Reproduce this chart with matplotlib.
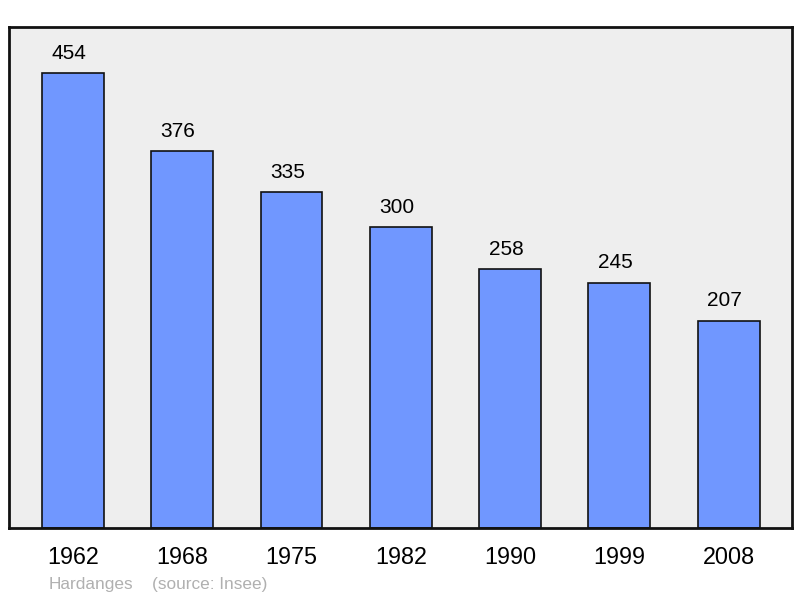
import matplotlib.pyplot as plt

plt.rcParams['font.family'] = ['Liberation Sans', 'DejaVu Sans']

years = ['1962', '1968', '1975', '1982', '1990', '1999', '2008']
population = [454, 376, 335, 300, 258, 245, 207]

fig = plt.figure(figsize=(8, 5.98), dpi=100)
ax = fig.add_axes([9 / 800, 70 / 598, 783 / 800, 501 / 598])
ax.set_facecolor('#eeeeee')

x = range(len(years))
bars = ax.bar(x, population, width=0.567, color='#7097ff', edgecolor='#111111', linewidth=1.2)

# labels sit a bit left of bar centre in the original
for b, v in zip(bars, population):
    ax.annotate(str(v), (b.get_x() + b.get_width() / 2, v), xytext=(-3, 7.5),
                textcoords='offset points', ha='center', va='bottom', fontsize=15)

ax.set_xlim(-0.585, 6.58)
ax.set_ylim(0, 500)
ax.set_xticks(list(x))
ax.set_xticklabels(years, fontsize=16.8)
ax.tick_params(axis='x', length=0, pad=13)
ax.set_yticks([])
for s in ax.spines.values():
    s.set_linewidth(2)
    s.set_color('#111111')

fig.text(49 / 800, 1 - 584 / 598, 'Hardanges', color='#b0b0b0', fontsize=12.4, va='center')
fig.text(152 / 800, 1 - 584 / 598, '(source: Insee)', color='#b0b0b0', fontsize=12.4, va='center')

fig.savefig('out.png', dpi=100)
